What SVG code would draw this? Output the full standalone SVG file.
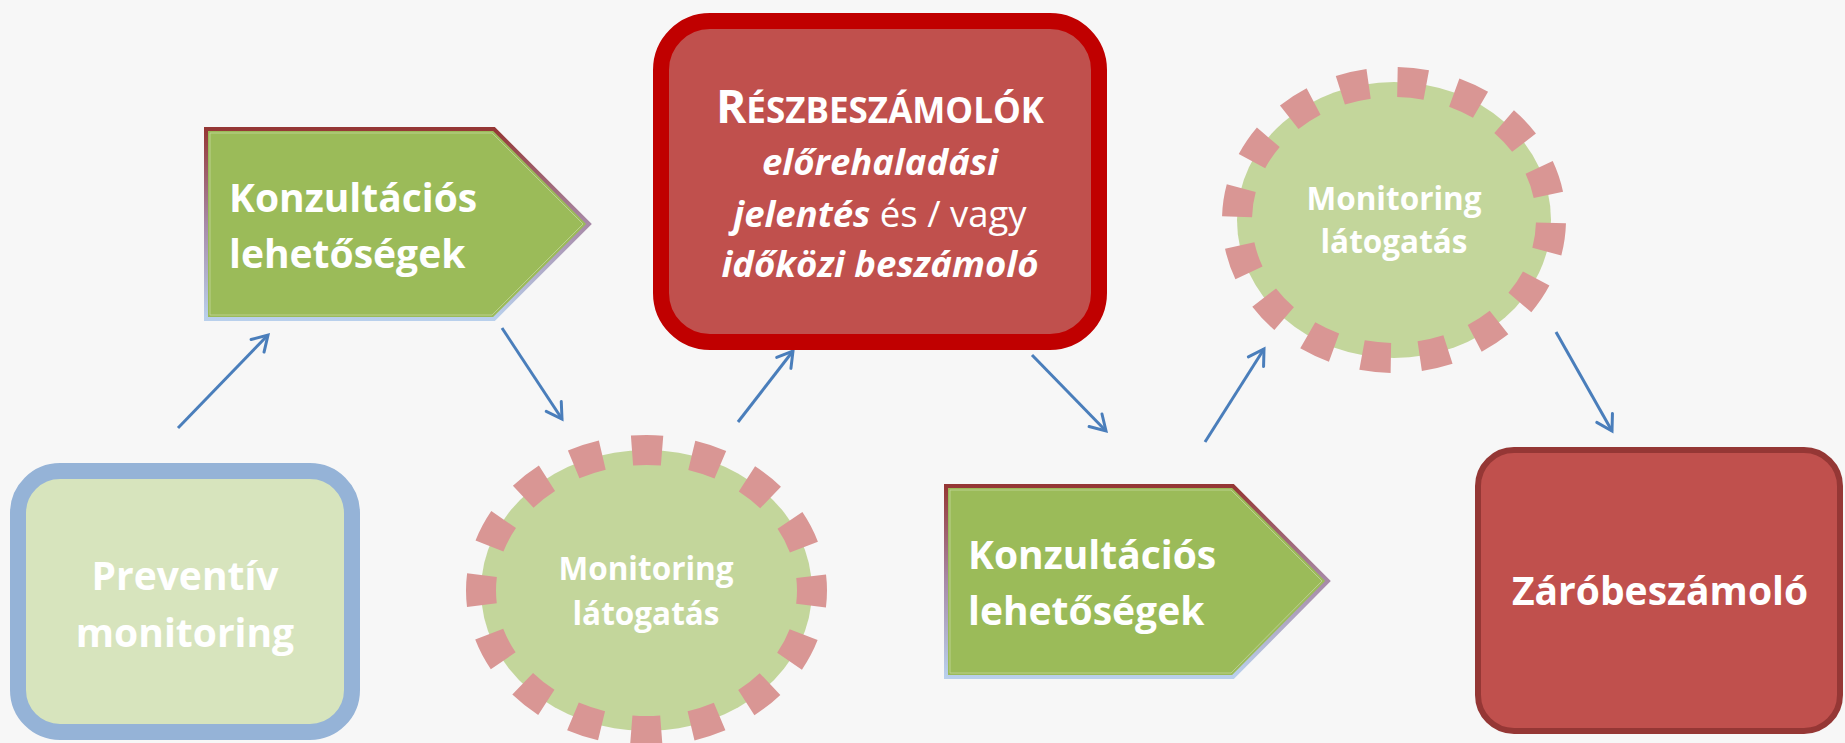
<svg xmlns="http://www.w3.org/2000/svg" width="1845" height="743" viewBox="0 0 1845 743">
<style>
.t{font-family:"Open Sans","Noto Sans","DejaVu Sans",sans-serif;fill:#ffffff;font-weight:bold}
.big{font-size:39px}
.mon{font-size:31.5px;text-anchor:middle}
.conn{stroke:#4a7ebb;stroke-width:3;fill:none;marker-end:url(#arr)}
.pent{fill:#9bbb59;stroke:url(#pg);stroke-width:4;stroke-linejoin:miter}
.pin{fill:none;stroke:#c3d69b;stroke-width:1;stroke-opacity:0.8}
.ell{fill:#c3d69b;stroke:#d99694;stroke-width:30}
</style>
<defs>
<linearGradient id="pg" x1="0" y1="0" x2="0" y2="1">
<stop offset="0" stop-color="#953735"/>
<stop offset="0.5" stop-color="#a88aa8"/>
<stop offset="1" stop-color="#b9d0ec"/>
</linearGradient>
<marker id="arr" markerUnits="userSpaceOnUse" viewBox="-20 -12 24 24" markerWidth="24" markerHeight="24" refX="0" refY="0" orient="auto">
<path d="M-15,-9 L0,0 L-15,9" fill="none" stroke="#4a7ebb" stroke-width="3" stroke-linecap="round" stroke-linejoin="miter"/>
</marker>
</defs>
<rect width="1845" height="743" fill="#f7f7f7"/>
<g id="connectors">
<line class="conn" x1="178" y1="428" x2="268" y2="335"/>
<line class="conn" x1="502" y1="328" x2="562" y2="419"/>
<line class="conn" x1="738" y1="422" x2="793" y2="351"/>
<line class="conn" x1="1032" y1="355" x2="1106" y2="431"/>
<line class="conn" x1="1205" y1="442" x2="1264" y2="349"/>
<line class="conn" x1="1556" y1="332" x2="1612" y2="431"/>
</g>
<g id="preventiv">
<rect x="18" y="471" width="334" height="261" rx="42" fill="#d7e4bd" stroke="#95b3d7" stroke-width="16"/>
<text class="t big" text-anchor="middle" x="185" y="590">Preventív</text>
<text class="t big" text-anchor="middle" x="185" y="647">monitoring</text>
</g>
<g id="konzultacio1">
<polygon class="pent" points="206,129 494,129 589,224 494,319 206,319"/>
<polygon class="pin" points="210,133 492,133 583,224 492,315 210,315"/>
<text class="t big" x="229" y="212">Konzultációs</text>
<text class="t big" x="229" y="268">lehetőségek</text>
</g>
<g id="monitoring1">
<ellipse class="ell" cx="646.5" cy="590.5" rx="165.5" ry="140.5" stroke-dasharray="30.1 30.1" stroke-dashoffset="15"/>
<text class="t mon" x="646" y="580">Monitoring</text>
<text class="t mon" x="646" y="625">látogatás</text>
</g>
<g id="reszbeszamolok">
<rect x="661" y="21" width="438" height="321" rx="49" fill="#c0504d" stroke="#c00000" stroke-width="16"/>
<text class="t" text-anchor="middle" x="880" y="123"><tspan font-size="46">R</tspan><tspan font-size="35">ÉSZBESZÁMOLÓK</tspan></text>
<text class="t" text-anchor="middle" x="880" y="175" font-size="36.5" font-style="italic">előrehaladási</text>
<text class="t" text-anchor="middle" x="880" y="227" font-size="36.5"><tspan font-style="italic">jelentés</tspan><tspan font-weight="normal"> és / vagy</tspan></text>
<text class="t" text-anchor="middle" x="880" y="277" font-size="36.5" font-style="italic">időközi beszámoló</text>
</g>
<g id="monitoring2">
<ellipse class="ell" cx="1394" cy="220" rx="157" ry="138" stroke-dasharray="29 29" stroke-dashoffset="-3"/>
<text class="t mon" x="1394" y="210">Monitoring</text>
<text class="t mon" x="1394" y="253">látogatás</text>
</g>
<g id="konzultacio2">
<polygon class="pent" points="946,486 1233,486 1328,581 1233,677 946,677"/>
<polygon class="pin" points="950,490 1231,490 1322,581 1231,673 950,673"/>
<text class="t big" x="968" y="569">Konzultációs</text>
<text class="t big" x="968" y="625">lehetőségek</text>
</g>
<g id="zarobeszamolo">
<rect x="1478" y="450" width="362" height="281" rx="36" fill="#c0504d" stroke="#953735" stroke-width="6"/>
<text class="t big" text-anchor="middle" x="1660" y="605">Záróbeszámoló</text>
</g>
</svg>
